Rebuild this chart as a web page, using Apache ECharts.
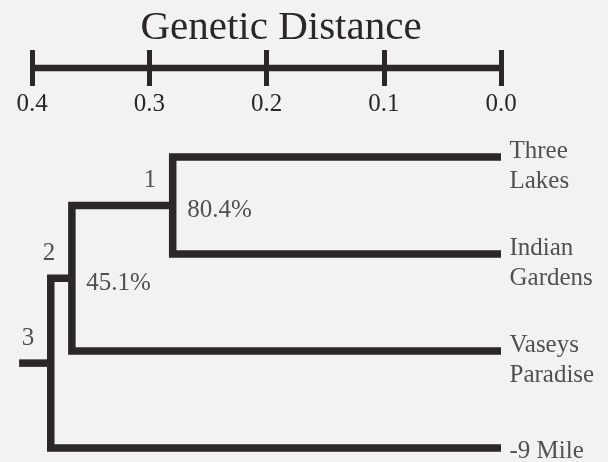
<!DOCTYPE html>
<html><head><meta charset="utf-8">
<script src="https://cdn.jsdelivr.net/npm/echarts@6/dist/echarts.min.js"></script>
<style>html,body{margin:0;padding:0;background:#f2f2f0}#c{width:608px;height:462px}</style>
</head><body><div id="c"></div>
<script>
// ---- data ----
const chartTitle = 'Genetic Distance';
const scaleTicks = [0.4, 0.3, 0.2, 0.1, 0.0];
const leafNames = ['Three\nLakes', 'Indian\nGardens', 'Vaseys\nParadise', '-9 Mile'];
const nodeChildren = [['L0', 'L1'], ['N0', 'L2'], ['N1', 'L3']];
const nodeHeights = [0.28, 0.366, 0.384];
const nodeNames = ['1', '2', '3'];
const nodeSupport = ['80.4%', '45.1%', ''];
const rootHeight = 0.411;

// ---- layout from data ----
const ink = '#2b2627';
const font = "'Liberation Serif', 'Times New Roman', serif";
function pos(id) {
  const i = +id.slice(1);
  if (id[0] === 'L') return [0, i];
  const a = pos(nodeChildren[i][0]), b = pos(nodeChildren[i][1]);
  return [nodeHeights[i], (a[1] + b[1]) / 2];
}
const lineStyle = { color: ink, width: 7.5, cap: 'butt', join: 'miter' };
const series = [];
nodeChildren.forEach((ch, i) => {
  const a = pos(ch[0]), b = pos(ch[1]), h = nodeHeights[i];
  series.push({
    type: 'line', xAxisIndex: 0, yAxisIndex: 0, symbol: 'none', silent: true, clip: false,
    lineStyle, data: [[a[0], a[1]], [h, a[1]], [h, b[1]], [b[0], b[1]]]
  });
});
const rootChild = pos('N' + (nodeChildren.length - 1));
series.push({
  type: 'line', xAxisIndex: 0, yAxisIndex: 0, symbol: 'none', silent: true, clip: false,
  lineStyle, data: [[rootChild[0], rootChild[1]], [rootHeight, rootChild[1]]]
});
// node numbers
series.push({
  type: 'scatter', xAxisIndex: 0, yAxisIndex: 0, symbolSize: 1, silent: true, clip: false,
  itemStyle: { color: 'rgba(0,0,0,0)' },
  label: { show: true, position: 'left', distance: 16, offset: [0, -25], color: ink,
    fontFamily: font, fontSize: 25, formatter: p => p.data.name },
  data: nodeNames.map((n, i) => ({ name: n, value: pos('N' + i) }))
});
// support values
series.push({
  type: 'scatter', xAxisIndex: 0, yAxisIndex: 0, symbolSize: 1, silent: true, clip: false,
  itemStyle: { color: 'rgba(0,0,0,0)' },
  label: { show: true, position: 'right', distance: 14, offset: [0, 5], color: ink,
    fontFamily: font, fontSize: 25, formatter: p => p.data.name },
  data: nodeSupport.map((n, i) => ({ name: n, value: pos('N' + i) })).filter(d => d.name)
});
// leaf names
series.push({
  type: 'scatter', xAxisIndex: 0, yAxisIndex: 0, symbolSize: 1, silent: true, clip: false,
  itemStyle: { color: 'rgba(0,0,0,0)' },
  data: leafNames.map((n, i) => ({
    name: n, value: [0, i],
    label: { offset: [0, n.indexOf('\n') >= 0 ? 9 : 3] }
  })),
  label: { show: true, position: 'right', distance: 8, color: ink, fontFamily: font,
    fontSize: 25, lineHeight: 30, formatter: p => p.data.name }
});
// scale bar
series.push({
  type: 'line', xAxisIndex: 1, yAxisIndex: 1, symbol: 'none', silent: true,
  lineStyle: { color: ink, width: 6.5, cap: 'butt' },
  data: [[scaleTicks[0], 0.5], [scaleTicks[scaleTicks.length - 1], 0.5]]
});

const chart = echarts.init(document.getElementById('c'), null, { renderer: 'canvas' });
chart.setOption({
  animation: false,
  backgroundColor: '#f2f2f0',
  title: { text: chartTitle, left: 276, top: 3, textAlign: 'center',
    textStyle: { fontFamily: font, fontSize: 41, fontWeight: 'normal', color: ink } },
  grid: [
    { left: 8.55, right: 107, top: 157, bottom: 14 },
    { left: 32, right: 107, top: 50, height: 36 }
  ],
  xAxis: [
    { gridIndex: 0, type: 'value', min: 0, max: 0.42, inverse: true, show: false },
    { gridIndex: 1, type: 'value', min: 0, max: 0.4, interval: 0.1, inverse: true,
      position: 'bottom', splitLine: { show: false },
      axisLine: { show: false, onZero: false },
      axisTick: { show: true, inside: true, length: 36, lineStyle: { color: ink, width: 5 } },
      axisLabel: { margin: 6, color: ink, fontFamily: font, fontSize: 25,
        formatter: v => v.toFixed(1) } }
  ],
  yAxis: [
    { gridIndex: 0, type: 'value', min: 0, max: 3, inverse: true, show: false },
    { gridIndex: 1, type: 'value', min: 0, max: 1, show: false }
  ],
  series
});
</script></body></html>
